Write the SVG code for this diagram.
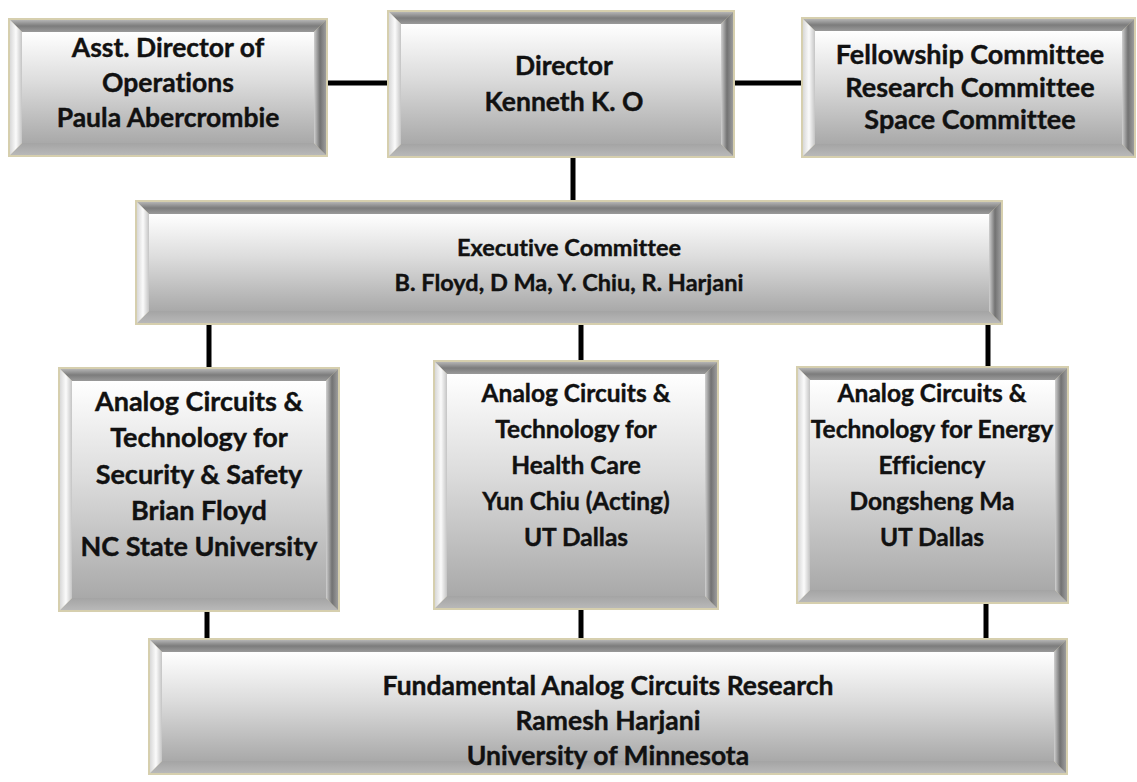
<svg xmlns="http://www.w3.org/2000/svg" width="1137" height="782" viewBox="0 0 1137 782">
  <defs>
    <linearGradient id="gFace" x1="0" y1="0" x2="0" y2="1">
      <stop offset="0" stop-color="#ffffff"/>
      <stop offset="0.45" stop-color="#dcdcdc"/>
      <stop offset="1" stop-color="#a9a9a9"/>
    </linearGradient>
    <linearGradient id="gTop" x1="0" y1="0" x2="0" y2="1">
      <stop offset="0" stop-color="#b4b4b4"/>
      <stop offset="0.5" stop-color="#7c7c7c"/>
      <stop offset="1" stop-color="#9a9a9a"/>
    </linearGradient>
    <linearGradient id="gLeft" x1="0" y1="0" x2="1" y2="0">
      <stop offset="0" stop-color="#d8d8d8"/>
      <stop offset="0.5" stop-color="#fbfbfb"/>
      <stop offset="1" stop-color="#c4c4c4"/>
    </linearGradient>
    <linearGradient id="gRight" x1="0" y1="0" x2="1" y2="0">
      <stop offset="0" stop-color="#d0d0d0"/>
      <stop offset="0.5" stop-color="#727272"/>
      <stop offset="1" stop-color="#9c9c9c"/>
    </linearGradient>
    <linearGradient id="gBottom" x1="0" y1="0" x2="0" y2="1">
      <stop offset="0" stop-color="#a4a4a4"/>
      <stop offset="1" stop-color="#b8b8b8"/>
    </linearGradient>
  </defs>
  <style>
    .rim { fill: #d6cfae; }
    .face { fill: url(#gFace); }
    .top { fill: url(#gTop); }
    .left { fill: url(#gLeft); }
    .right { fill: url(#gRight); }
    .bottom { fill: url(#gBottom); }
    .label { font-family: "Lato", "Liberation Sans", sans-serif; font-weight: bold; font-size: 26.5px; fill: #111; stroke: #111; stroke-width: 0.4px; text-anchor: middle; font-variant-ligatures: none; }
    .s27 { font-size: 27px; }
    .s24 { font-size: 24.5px; }
    .s23 { font-size: 23.5px; }
    .wire { stroke: #000; stroke-width: 5; fill: none; }
  </style>
  <rect width="1137" height="782" fill="#ffffff"/>

  <!-- connectors -->
  <g id="connectors">
    <line class="wire" x1="328" y1="83" x2="387" y2="83"/>
    <line class="wire" x1="735" y1="83" x2="801" y2="83"/>
    <line class="wire" x1="573" y1="158" x2="573" y2="200"/>
    <line class="wire" x1="209" y1="325" x2="209" y2="367"/>
    <line class="wire" x1="581" y1="325" x2="581" y2="360"/>
    <line class="wire" x1="988" y1="325" x2="988" y2="366"/>
    <line class="wire" x1="207" y1="612" x2="207" y2="638"/>
    <line class="wire" x1="581" y1="610" x2="581" y2="638"/>
    <line class="wire" x1="986" y1="604" x2="986" y2="638"/>
  </g>

  <!-- Asst. Director: x 8..328, y 18..157 -->
  <g id="asst-director">
    <rect class="rim" x="8" y="18" width="320" height="139"/>
    <polygon class="top" points="10,20 326,20 314,32 22,32"/>
    <polygon class="bottom" points="10,155 326,155 314,143 22,143"/>
    <polygon class="left" points="10,20 22,32 22,143 10,155"/>
    <polygon class="right" points="326,20 314,32 314,143 326,155"/>
    <rect class="face" x="22" y="32" width="292" height="111"/>
    <text class="label" x="168" y="57">Asst. Director of</text>
    <text class="label" x="168" y="92">Operations</text>
    <text class="label" x="168" y="127">Paula Abercrombie</text>
  </g>

  <!-- Director: x 387..735, y 10..158 -->
  <g id="director">
    <rect class="rim" x="387" y="10" width="348" height="148"/>
    <polygon class="top" points="389,12 733,12 721,24 401,24"/>
    <polygon class="bottom" points="389,156 733,156 721,144 401,144"/>
    <polygon class="left" points="389,12 401,24 401,144 389,156"/>
    <polygon class="right" points="733,12 721,24 721,144 733,156"/>
    <rect class="face" x="401" y="24" width="320" height="120"/>
    <text class="label" x="564" y="75">Director</text>
    <text class="label" x="564" y="111">Kenneth K. O</text>
  </g>

  <!-- Committees: x 801..1136, y 17..158 -->
  <g id="committees">
    <rect class="rim" x="801" y="17" width="335" height="141"/>
    <polygon class="top" points="803,19 1134,19 1122,31 815,31"/>
    <polygon class="bottom" points="803,156 1134,156 1122,144 815,144"/>
    <polygon class="left" points="803,19 815,31 815,144 803,156"/>
    <polygon class="right" points="1134,19 1122,31 1122,144 1134,156"/>
    <rect class="face" x="815" y="31" width="307" height="113"/>
    <text class="label s27" x="970" y="64">Fellowship Committee</text>
    <text class="label s27" x="970" y="97">Research Committee</text>
    <text class="label s27" x="970" y="129">Space Committee</text>
  </g>

  <!-- Executive Committee: x 135..1003, y 200..325 -->
  <g id="executive">
    <rect class="rim" x="135" y="200" width="868" height="125"/>
    <polygon class="top" points="137,202 1001,202 989,214 149,214"/>
    <polygon class="bottom" points="137,323 1001,323 989,311 149,311"/>
    <polygon class="left" points="137,202 149,214 149,311 137,323"/>
    <polygon class="right" points="1001,202 989,214 989,311 1001,323"/>
    <rect class="face" x="149" y="214" width="840" height="97"/>
    <text class="label s23" x="569" y="256">Executive Committee</text>
    <text class="label s23" x="569" y="291">B. Floyd, D Ma, Y. Chiu, R. Harjani</text>
  </g>

  <!-- Security & Safety: x 58..340, y 367..612 -->
  <g id="security">
    <rect class="rim" x="58" y="367" width="282" height="245"/>
    <polygon class="top" points="60,369 338,369 326,381 72,381"/>
    <polygon class="bottom" points="60,610 338,610 326,598 72,598"/>
    <polygon class="left" points="60,369 72,381 72,598 60,610"/>
    <polygon class="right" points="338,369 326,381 326,598 338,610"/>
    <rect class="face" x="72" y="381" width="254" height="217"/>
    <text class="label s27" x="199" y="411">Analog Circuits &amp;</text>
    <text class="label s27" x="199" y="447">Technology for</text>
    <text class="label s27" x="199" y="484">Security &amp; Safety</text>
    <text class="label s27" x="199" y="520">Brian Floyd</text>
    <text class="label s27" x="199" y="556">NC State University</text>
  </g>

  <!-- Health Care: x 433..719, y 360..610 -->
  <g id="health">
    <rect class="rim" x="433" y="360" width="286" height="250"/>
    <polygon class="top" points="435,362 717,362 705,374 447,374"/>
    <polygon class="bottom" points="435,608 717,608 705,596 447,596"/>
    <polygon class="left" points="435,362 447,374 447,596 435,608"/>
    <polygon class="right" points="717,362 705,374 705,596 717,608"/>
    <rect class="face" x="447" y="374" width="258" height="222"/>
    <text class="label s24" x="576" y="402">Analog Circuits &amp;</text>
    <text class="label s24" x="576" y="438">Technology for</text>
    <text class="label s24" x="576" y="474">Health Care</text>
    <text class="label s24" x="576" y="510">Yun Chiu (Acting)</text>
    <text class="label s24" x="576" y="546">UT Dallas</text>
  </g>

  <!-- Energy Efficiency: x 796..1069, y 366..604 -->
  <g id="energy">
    <rect class="rim" x="796" y="366" width="273" height="238"/>
    <polygon class="top" points="798,368 1067,368 1055,380 810,380"/>
    <polygon class="bottom" points="798,602 1067,602 1055,590 810,590"/>
    <polygon class="left" points="798,368 810,380 810,590 798,602"/>
    <polygon class="right" points="1067,368 1055,380 1055,590 1067,602"/>
    <rect class="face" x="810" y="380" width="245" height="210"/>
    <text class="label s24" x="932" y="402">Analog Circuits &amp;</text>
    <text class="label s24" x="932" y="438">Technology for Energy</text>
    <text class="label s24" x="932" y="474">Efficiency</text>
    <text class="label s24" x="932" y="510">Dongsheng Ma</text>
    <text class="label s24" x="932" y="546">UT Dallas</text>
  </g>

  <!-- Fundamental Research: x 148..1068, y 638..775 -->
  <g id="fundamental">
    <rect class="rim" x="148" y="638" width="920" height="137"/>
    <polygon class="top" points="150,640 1066,640 1054,652 162,652"/>
    <polygon class="bottom" points="150,773 1066,773 1054,761 162,761"/>
    <polygon class="left" points="150,640 162,652 162,761 150,773"/>
    <polygon class="right" points="1066,640 1054,652 1054,761 1066,773"/>
    <rect class="face" x="162" y="652" width="892" height="109"/>
    <text class="label" x="608" y="695">Fundamental Analog Circuits Research</text>
    <text class="label" x="608" y="730">Ramesh Harjani</text>
    <text class="label" x="608" y="765">University of Minnesota</text>
  </g>
</svg>
